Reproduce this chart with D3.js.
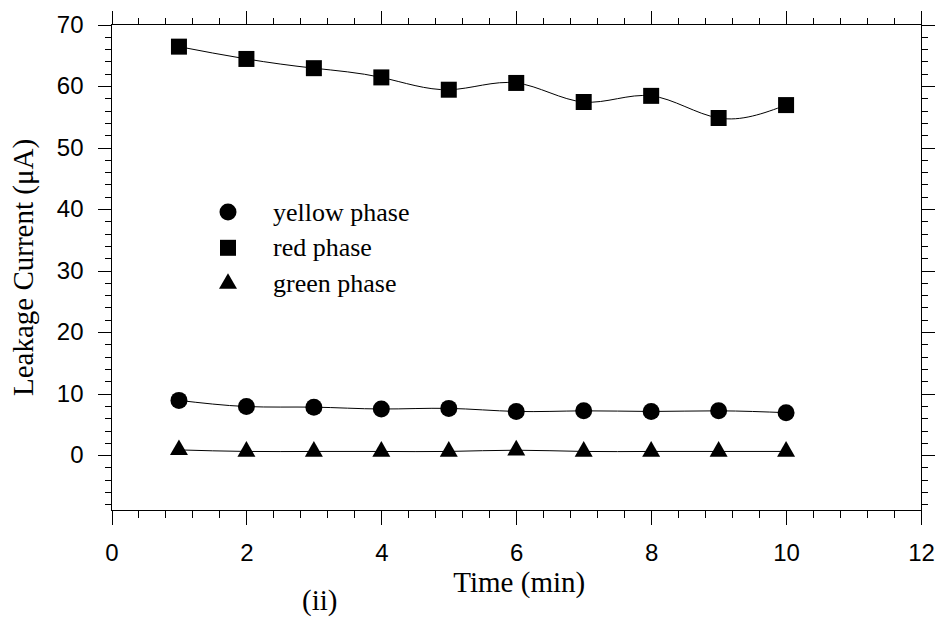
<!DOCTYPE html>
<html>
<head>
<meta charset="utf-8">
<script src="https://cdn.jsdelivr.net/npm/d3@7"></script>
<style>
  body { margin: 0; background: #fff; }
  .tick-label text { font-family: "Liberation Sans", Arial, sans-serif; font-size: 24px; fill: #000; }
  .title { font-family: "Liberation Serif", "Times New Roman", serif; fill: #000; }
</style>
</head>
<body>
<div id="chart"></div>
<script>
// values
const time = [1, 2, 3, 4, 5, 6, 7, 8, 9, 10];
const yellowPhase = [8.9, 7.9, 7.8, 7.5, 7.6, 7.1, 7.2, 7.1, 7.2, 6.9];
const redPhase = [66.4, 64.4, 62.9, 61.4, 59.4, 60.5, 57.4, 58.4, 54.8, 56.9];
const greenPhase = [0.85, 0.6, 0.6, 0.6, 0.6, 0.8, 0.6, 0.6, 0.6, 0.6];

const xTicks = [0, 2, 4, 6, 8, 10, 12];
const yTicks = [0, 10, 20, 30, 40, 50, 60, 70];

const width = 939,
  height = 624;
const margin = { top: 24.5, right: 18, bottom: 113.5, left: 111.5 };

const svg = d3
  .select("#chart")
  .append("svg")
  .attr("width", width)
  .attr("height", height);

const x = d3
  .scaleLinear()
  .domain([0, 12])
  .range([margin.left, width - margin.right]);

const y = d3
  .scaleLinear()
  .domain([-9, 70])
  .range([height - margin.bottom, margin.top]);

const major = 14,
  minor = 7;
const xMinor = d3.range(0, 12.001, 0.4).map((d) => +d.toFixed(1));
const yMinor = d3.range(-8, 70.001, 2);

// minor ticks first, then major ticks with labels
const axisDefs = [
  { gen: d3.axisBottom, scale: x, pos: `translate(0,${y.range()[0]})`, label: true, vals: xTicks, mins: xMinor },
  { gen: d3.axisTop, scale: x, pos: `translate(0,${y.range()[1]})`, label: false, vals: xTicks, mins: xMinor },
  { gen: d3.axisLeft, scale: y, pos: `translate(${x.range()[0]},0)`, label: true, vals: yTicks, mins: yMinor },
  { gen: d3.axisRight, scale: y, pos: `translate(${x.range()[1]},0)`, label: false, vals: yTicks, mins: yMinor },
];

axisDefs.forEach((a) => {
  const gMin = svg
    .append("g")
    .attr("transform", a.pos)
    .call(a.gen(a.scale).tickValues(a.mins).tickSize(minor).tickSizeOuter(0).tickFormat(""));
  gMin.select(".domain").remove();

  const gMaj = svg
    .append("g")
    .attr("class", "tick-label")
    .attr("transform", a.pos)
    .call(
      a
        .gen(a.scale)
        .tickValues(a.vals)
        .tickSize(major)
        .tickSizeOuter(0)
        .tickPadding(a.gen === d3.axisBottom ? 19 : 14)
        .tickFormat(a.label ? d3.format("d") : "")
    );
  gMaj.select(".domain").remove();
});

svg.selectAll(".tick line").attr("stroke", "#000").attr("shape-rendering", "crispEdges");
svg.selectAll(".tick-label text").attr("font-size", null).attr("font-family", null);

// frame
svg
  .append("rect")
  .attr("x", x.range()[0])
  .attr("y", y.range()[1])
  .attr("width", x.range()[1] - x.range()[0])
  .attr("height", y.range()[0] - y.range()[1])
  .attr("fill", "none")
  .attr("stroke", "#000")
  .attr("shape-rendering", "crispEdges");

const series = [
  { name: "yellow phase", values: yellowPhase, symbol: d3.symbolCircle, size: 227 },
  { name: "red phase", values: redPhase, symbol: d3.symbolSquare, size: 256 },
  { name: "green phase", values: greenPhase, symbol: d3.symbolTriangle, size: 140 },
];

const line = d3
  .line()
  .x((d) => x(d[0]))
  .y((d) => y(d[1]))
  .curve(d3.curveNatural);

series.forEach((s) => {
  const pts = time.map((t, i) => [t, s.values[i]]);
  svg
    .append("path")
    .attr("d", line(pts))
    .attr("fill", "none")
    .attr("stroke", "#000")
    .attr("stroke-width", 1);

  svg
    .append("g")
    .selectAll("path")
    .data(pts)
    .join("path")
    .attr("transform", (d) => `translate(${x(d[0])},${y(d[1])})`)
    .attr("d", d3.symbol().type(s.symbol).size(s.size))
    .attr("fill", "#000");
});

// legend
const legend = svg.append("g").attr("transform", "translate(228,212)");
legend
  .selectAll("path")
  .data(series)
  .join("path")
  .attr("transform", (d, i) => `translate(0,${i * 35.8})`)
  .attr("d", (d) => d3.symbol().type(d.symbol).size(d.size)())
  .attr("fill", "#000");
legend
  .selectAll("text")
  .data(series)
  .join("text")
  .attr("class", "title")
  .attr("x", 45)
  .attr("y", (d, i) => i * 35.8 + 8.5)
  .attr("font-size", 26)
  .text((d) => d.name);

// axis titles
svg
  .append("text")
  .attr("class", "title")
  .attr("x", (x.range()[0] + x.range()[1]) / 2 + 3)
  .attr("y", 592)
  .attr("text-anchor", "middle")
  .attr("font-size", 29)
  .text("Time (min)");

svg
  .append("text")
  .attr("class", "title")
  .attr("transform", `translate(33,${(y.range()[0] + y.range()[1]) / 2}) rotate(-90)`)
  .attr("text-anchor", "middle")
  .attr("font-size", 29)
  .text("Leakage Current (μA)");

svg
  .append("text")
  .attr("class", "title")
  .attr("x", 302)
  .attr("y", 610)
  .attr("font-size", 29)
  .text("(ii)");
</script>
</body>
</html>
